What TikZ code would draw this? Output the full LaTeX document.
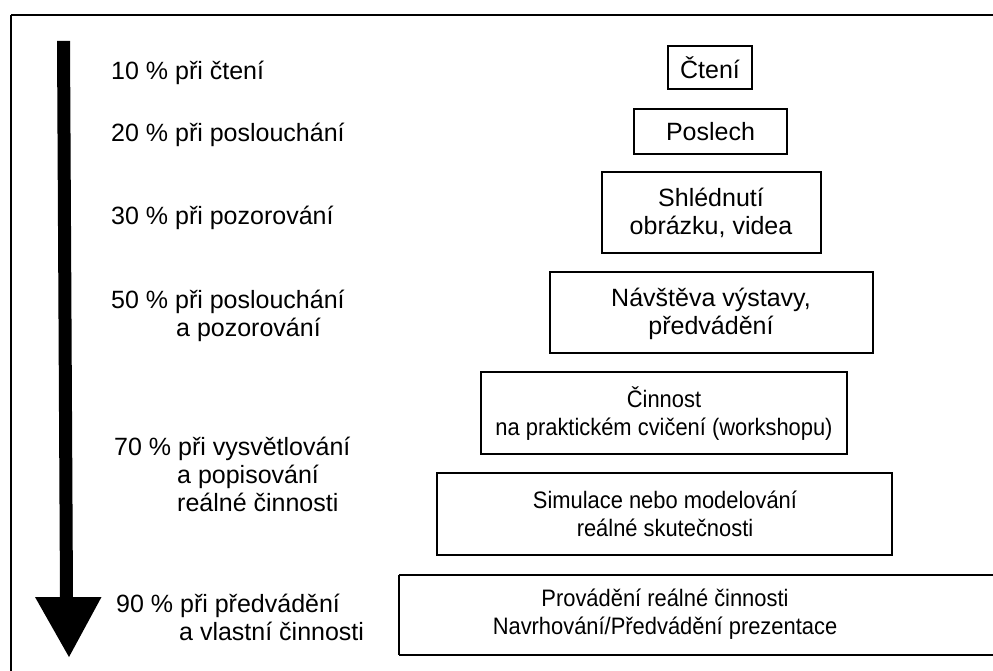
\documentclass[tikz,border=0pt]{standalone}
\usepackage{fontspec}
\setmainfont{Liberation Sans}
\newfontfamily\condfont[FakeStretch=0.92]{Liberation Sans}
\newcommand{\tstr}{\rule{0pt}{24pt}}
\tikzset{
  box/.style={draw, line width=1.6pt, inner sep=0pt, rectangle},
  edge/.style={line width=1.6pt},
  lbl/.style={anchor=north west, inner sep=0pt, align=left, font=\fontsize{25}{28}\selectfont},
  btxt/.style={anchor=north, inner sep=0pt, align=center, font=\fontsize{25}{28.5}\selectfont},
  ctxt/.style={anchor=north, inner sep=0pt, align=center, font=\condfont\fontsize{23.8}{28.5}\selectfont},
}
\begin{document}
\begin{tikzpicture}[x=1pt,y=-1pt]
\useasboundingbox (0,0) rectangle (993,671);
\fill[white] (0,0) rectangle (993,671);
% frame
\coordinate (fTL) at (11,15);
\coordinate (fTR) at (993,15);
\coordinate (fBL) at (11,671);
\draw[edge, line width=1.8pt] (fTL) -- (fTR);
\draw[edge, line width=1.8pt] (fTL) -- (fBL);
% big arrow
\fill (57,41) -- (70,41) -- (73,597) -- (101.5,597) -- (69,657) -- (35,597) -- (60,597) -- cycle;
% left labels
\node[lbl] (l1) at (111,55) {\tstr 10 \% při čtení};
\node[lbl] (l2) at (111,117.7) {\tstr 20 \% při poslouchání};
\node[lbl] (l3) at (111,200) {\tstr 30 \% při pozorování};
\node[lbl] (l4) at (111,284.5) {\tstr 50 \% při poslouchání\\\hspace*{65pt}a pozorování};
\node[lbl] (l5) at (114,431) {\tstr 70 \% při vysvětlování\\\hspace*{63pt}a popisování\\\hspace*{63pt}reálné činnosti};
\node[lbl] (l6) at (116,588.7) {\tstr 90 \% při předvádění\\\hspace*{63pt}a vlastní činnosti};
% boxes
\node[box, minimum width=84, minimum height=43] (b1) at (710,67.5) {};
\node[box, minimum width=153, minimum height=45] (b2) at (710.5,131.5) {};
\node[box, minimum width=219, minimum height=81] (b3) at (711.5,212.5) {};
\node[box, minimum width=323, minimum height=81] (b4) at (711.5,312.5) {};
\node[box, minimum width=366, minimum height=82] (b5) at (664,413) {};
\node[box, minimum width=455, minimum height=82] (b6) at (664.5,514) {};
\node[inner sep=0pt, minimum width=594, minimum height=80] (b7) at (696,615) {};
\draw[edge] (b7.north west) -- (b7.north east);
\draw[edge] (b7.north west) -- (b7.south west);
\draw[edge] (b7.south west) -- (b7.south east);
% box texts
\node[btxt] (t1) at (710,54.3) {\tstr Čtení};
\node[btxt] (t2) at (710.5,116) {\tstr Poslech};
\node[btxt] (t3) at (711,182) {\tstr Shlédnutí\\obrázku, videa};
\node[btxt] (t4) at (711,282) {\tstr Návštěva výstavy,\\předvádění};
\node[ctxt] (t5) at (664,383) {\tstr Činnost\\na praktickém cvičení (workshopu)};
\node[ctxt] (t6) at (665,484) {\tstr Simulace nebo modelování\\reálné skutečnosti};
\node[ctxt] (t7) at (665,582) {\tstr Provádění reálné činnosti\\Navrhování/Předvádění prezentace};
\end{tikzpicture}
\end{document}
